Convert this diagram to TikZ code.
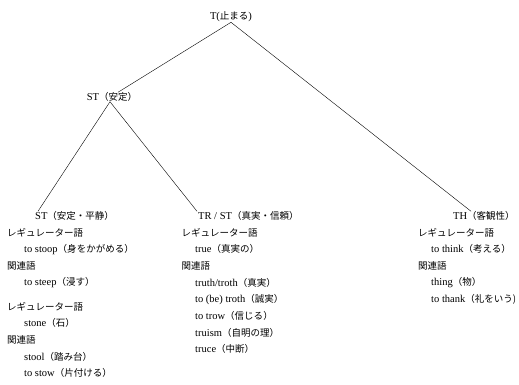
\documentclass[tikz,border=0pt]{standalone}
\usepackage{fontspec}
\setmainfont{Liberation Serif}
\newfontfamily\jp[Scale=0.905]{Noto Sans CJK JP}
\begin{document}
\begin{tikzpicture}[x=1pt, y=-1pt, font=\fontsize{10.5}{12}\selectfont, line join=round, line cap=round,
 lbl/.style={anchor=west, inner sep=0pt}]
 \def\lx{7} \def\mx{181.5} \def\rx{418}
 \def\dy{16.65}
 \useasboundingbox (0,0) rectangle (519,384);
 % tree
 \path
 (231,17) node[inner sep=0pt] (t) {T({\jp 止まる})}
 (112,97) node[inner sep=0pt] (st) {ST{\jp （安定）}}
 (35,216) node[lbl] (h1) {ST{\jp （安定・平静）}}
 (198,216) node[lbl] (h2) {TR / ST{\jp （真実・信頼）}}
 (453,216) node[lbl] (h3) {TH{\jp （客観性）}};
 \draw (t.south)--([xshift=6pt]st.north);
 \draw (t.south)--([xshift=18pt]h3.north west);
 \draw ([xshift=-2pt]st.south)--([xshift=3pt]h1.north west);
 \draw ([xshift=-2pt]st.south)--([xshift=-1pt]h2.north west);
 % left column
 \path
 (\lx,216+\dy) node[lbl] (l1) {\jp レギュレーター語}
 (\lx+17,216+2*\dy) node[lbl] (l2) {to stoop{\jp （身をかがめる）}}
 (\lx,216+3*\dy) node[lbl] (l3) {\jp 関連語}
 (\lx+17,216+4*\dy) node[lbl] (l4) {to steep{\jp （浸す）}}
 (\lx,306.7) node[lbl] (l5) {\jp レギュレーター語}
 (\lx+17,306.7+\dy) node[lbl] (l6) {stone{\jp （石）}}
 (\lx,306.7+2*\dy) node[lbl] (l7) {\jp 関連語}
 (\lx+17,306.7+3*\dy) node[lbl] (l8) {stool{\jp （踏み台）}}
 (\lx+17,306.7+4*\dy) node[lbl] (l9) {to stow{\jp （片付ける）}};
 % middle column
 \path
 (\mx,216+\dy) node[lbl] (m1) {\jp レギュレーター語}
 (\mx+13.5,216+2*\dy) node[lbl] (m2) {true{\jp （真実の）}}
 (\mx,216+3*\dy) node[lbl] (m3) {\jp 関連語}
 (\mx+13.5,216+4*\dy) node[lbl] (m4) {truth/troth{\jp （真実）}}
 (\mx+13.5,216+5*\dy) node[lbl] (m5) {to (be) troth{\jp （誠実）}}
 (\mx+13.5,216+6*\dy) node[lbl] (m6) {to trow{\jp （信じる）}}
 (\mx+13.5,216+7*\dy) node[lbl] (m7) {truism{\jp （自明の理）}}
 (\mx+13.5,216+8*\dy) node[lbl] (m8) {truce{\jp （中断）}};
 % right column
 \path
 (\rx,216+\dy) node[lbl] (r1) {\jp レギュレーター語}
 (\rx+13,216+2*\dy) node[lbl] (r2) {to think{\jp （考える）}}
 (\rx,216+3*\dy) node[lbl] (r3) {\jp 関連語}
 (\rx+13,216+4*\dy) node[lbl] (r4) {thing{\jp （物）}}
 (\rx+13,216+5*\dy) node[lbl] (r5) {to thank{\jp （礼をいう)}};
\end{tikzpicture}
\end{document}
